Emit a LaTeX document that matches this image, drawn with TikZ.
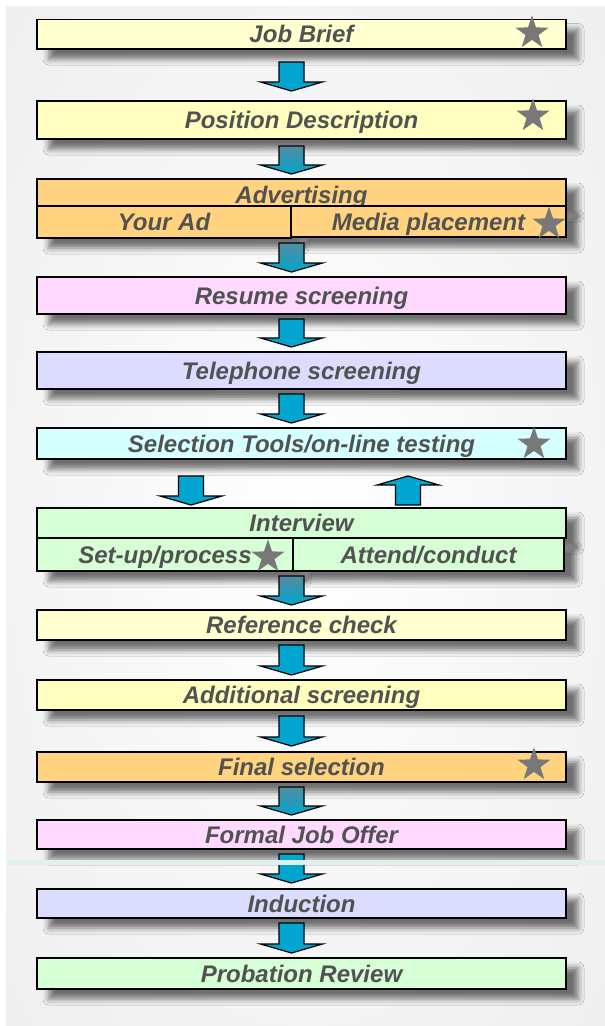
\documentclass[tikz,border=0pt]{standalone}
\usepackage{fontspec}
\setmainfont{Liberation Sans}
\usetikzlibrary{calc,shadows.blur,shapes.geometric}
\definecolor{panelgray}{RGB}{232,232,232}
\definecolor{txt}{RGB}{82,82,82}
\definecolor{ylight}{RGB}{255,255,208}
\definecolor{ymid}{RGB}{255,255,192}
\definecolor{orng}{RGB}{255,211,128}
\definecolor{pnk}{RGB}{255,217,255}
\definecolor{lav}{RGB}{220,220,255}
\definecolor{cyn}{RGB}{214,255,255}
\definecolor{grn}{RGB}{214,255,214}
\definecolor{arrblue}{RGB}{0,166,207}
\definecolor{arrtop}{RGB}{84,140,160}
\definecolor{stargray}{RGB}{120,120,120}
\definecolor{sepcol}{RGB}{222,240,240}
\pgfdeclareradialshading{panelshade}{\pgfpoint{0bp}{0bp}}{color(0bp)=(white); color(50bp)=(panelgray); color(75bp)=(panelgray)}
\tikzset{
  box/.style={draw=black, line width=1.6pt, inner sep=0pt, outer sep=0pt,
    anchor=north west, text=txt, font=\fontsize{24}{28}\selectfont\bfseries\itshape,
    text height=17.2pt, text depth=0pt,
    blur shadow={shadow xshift=12pt, shadow yshift=-10pt, shadow blur radius=6pt, shadow opacity=55}},
  blockarrow/.style={fill=arrblue, draw=black, line width=1.2pt, line join=miter},
  shadedarrow/.style={blockarrow, top color=arrtop, middle color=arrblue, bottom color=arrblue},
  gstar/.style={star, star points=5, star point ratio=2.55, minimum size=35pt, inner sep=0pt, fill=stargray},
  sepline/.style={draw=sepcol, line width=4.5pt},
}
% #1 upper node, #2 lower node, #3 column coordinate, #4/#5 gaps, #6 style
\newcommand\flowdown[6]{%
  \path[#6] ($(#1.south -| #3)+(-12.5,#4)$) -- ($(#1.south -| #3)+(12.5,#4)$)
    -- ($(#2.north -| #3)+(12.5,-#5-9)$) -- ($(#2.north -| #3)+(31,-#5-9)$)
    -- ($(#2.north -| #3)+(0,-#5)$) -- ($(#2.north -| #3)+(-31,-#5-9)$)
    -- ($(#2.north -| #3)+(-12.5,-#5-9)$) -- cycle;}
\newcommand\flowup[5]{%
  \path[blockarrow] ($(#1.north -| #3)+(-12.5,-#4)$) -- ($(#1.north -| #3)+(12.5,-#4)$)
    -- ($(#2.south -| #3)+(12.5,#5+9)$) -- ($(#2.south -| #3)+(31,#5+9)$)
    -- ($(#2.south -| #3)+(0,#5)$) -- ($(#2.south -| #3)+(-31,#5+9)$)
    -- ($(#2.south -| #3)+(-12.5,#5+9)$) -- cycle;}
\begin{document}
\begin{tikzpicture}[x=1pt,y=-1pt]
\useasboundingbox (0,0) rectangle (605,1026);
\fill[white] (0,0) rectangle (605,1026);
\shade[shading=panelshade] (6,6) rectangle (605,1026);
% arrow columns
\coordinate (mx) at (291.5,0);
\coordinate (lx) at (191,0);
\coordinate (ux) at (408,0);
% ---- boxes ----
\node[box, fill=ylight, minimum width=529pt, minimum height=29.5pt] (jb) at (37,19.5) {Job Brief};
\node[box, fill=ymid, minimum width=529pt, minimum height=38pt] (pd) at (37,101) {Position Description};
\node[box, fill=orng, minimum width=529pt, minimum height=27pt, text height=21pt] (adv) at (37,179) {Advertising};
\node[box, fill=orng, minimum width=254pt, minimum height=32pt] (advL) at (37,206) {Your Ad};
\node[box, fill=orng, minimum width=275pt, minimum height=31pt] (advR) at (291,206) {Media placement};
\node[box, fill=pnk, minimum width=529pt, minimum height=37pt] (rs) at (37,277) {Resume screening};
\node[box, fill=lav, minimum width=529pt, minimum height=37pt] (ts) at (37,352) {Telephone screening};
\node[box, fill=cyn, minimum width=529pt, minimum height=31pt] (st) at (37,428) {Selection Tools/on-line testing};
\node[box, fill=grn, minimum width=529pt, minimum height=30pt] (iv) at (37,508) {Interview};
\node[box, fill=grn, minimum width=256pt, minimum height=33pt] (ivL) at (37,538) {Set-up/process};
\node[box, fill=grn, minimum width=271pt, minimum height=33pt] (ivR) at (293,538) {Attend/conduct};
\node[box, fill=ylight, minimum width=529pt, minimum height=30pt] (rc) at (37,610) {Reference check};
\node[box, fill=ymid, minimum width=529pt, minimum height=30pt] (as) at (37,680) {Additional screening};
\node[box, fill=orng, minimum width=529pt, minimum height=30pt] (fs) at (37,752) {Final selection};
\node[box, fill=pnk, minimum width=529pt, minimum height=29pt] (fo) at (37,820) {Formal Job Offer};
\node[box, fill=lav, minimum width=529pt, minimum height=29pt] (ind) at (37,889) {Induction};
\node[box, fill=grn, minimum width=529pt, minimum height=31pt] (pr) at (37,958) {Probation Review};
% ---- arrows ----
\flowdown{jb}{pd}{mx}{13}{10}{blockarrow}
\flowdown{pd}{adv}{mx}{7}{5}{shadedarrow}
\flowdown{advL}{rs}{mx}{5}{5}{shadedarrow}
\flowdown{rs}{ts}{mx}{5}{5}{blockarrow}
\flowdown{ts}{st}{mx}{5}{5}{blockarrow}
\flowdown{st}{iv}{lx}{17}{3}{blockarrow}
\flowup{iv}{st}{ux}{3}{17}
\flowdown{ivL}{rc}{mx}{5}{5}{shadedarrow}
\flowdown{rc}{as}{mx}{5}{5}{blockarrow}
\flowdown{as}{fs}{mx}{6}{6}{blockarrow}
\flowdown{fs}{fo}{mx}{5}{5}{shadedarrow}
\flowdown{fo}{ind}{mx}{5}{6}{blockarrow}
\flowdown{ind}{pr}{mx}{5}{5}{blockarrow}
% ---- stars ----
\node[gstar] (s1) at (532,33) {};
\node[gstar] (s2) at (533,116) {};
\node[gstar] (s3) at (549,224) {};
\node[gstar] (s4) at (534,444) {};
\node[gstar] (s5) at (268,557) {};
\node[gstar] (s6) at (534,765) {};
% ---- separator line ----
\coordinate (sepL) at (8,862.5);
\coordinate (sepR) at (605,862.5);
\draw[sepline] (sepL) -- (sepR);
\end{tikzpicture}
\end{document}
